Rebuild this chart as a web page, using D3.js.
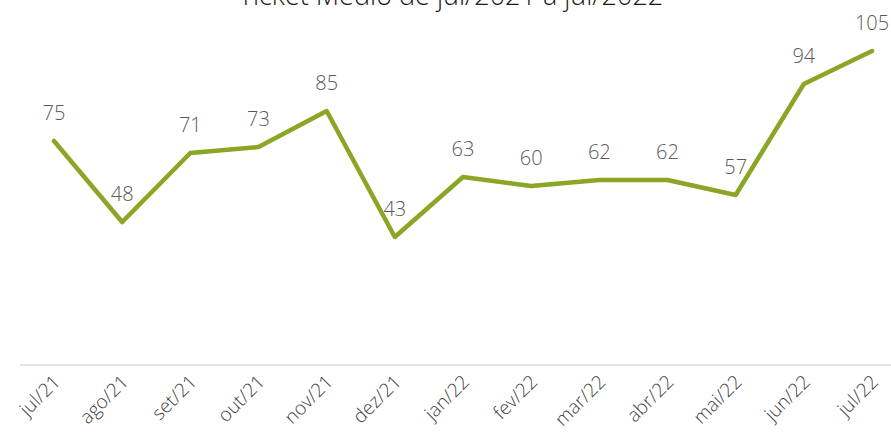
<!DOCTYPE html>
<html>
<head>
<meta charset="utf-8">
<script src="https://cdn.jsdelivr.net/npm/d3@7"></script>
<style>
  body { margin: 0; background: #fff; }
  text { font-family: 'Open Sans', sans-serif; font-weight: 300; fill: #595959; }
</style>
</head>
<body>
<div id="chart"></div>
<script>
// chart data
var months = ['jul/21', 'ago/21', 'set/21', 'out/21', 'nov/21', 'dez/21', 'jan/22',
    'fev/22', 'mar/22', 'abr/22', 'mai/22', 'jun/22', 'jul/22'];
var ticket = [75, 48, 71, 73, 85, 43, 63, 60, 62, 62, 57, 94, 105];
var title = 'Ticket Médio de jul/2021 a jul/2022';

var svgWidth = 891;
var svgHeight = 443;

var svg = d3.select('#chart')
    .append('svg')
    .attr('width', svgWidth)
    .attr('height', svgHeight);

// scales
var xScale = d3.scalePoint()
    .domain(months)
    .range([54, 872]);

var yScale = d3.scaleLinear()
    .domain([0, 105])
    .range([366, 51]);

// title (cut off at the top, as in the original)
svg.append('text')
    .attr('x', 451)
    .attr('y', 5)
    .attr('text-anchor', 'middle')
    .style('font-size', '27px')
    .style('fill', '#1a1a1a')
    .text(title);

// x axis
var bottomAxis = d3.axisBottom(xScale).tickSize(0).tickPadding(0);
var xAxis = svg.append('g')
    .attr('transform', `translate(0, 365)`)
    .call(bottomAxis);

xAxis.select('.domain')
    .attr('d', `M20,0H${svgWidth}`)
    .attr('stroke', '#d9d9d9')
    .attr('stroke-width', 1.5);

xAxis.selectAll('.tick text')
    .attr('text-anchor', 'end')
    .attr('dy', 0)
    .attr('transform', 'translate(7, 18) rotate(-45)')
    .style('font-size', '19px')
    .style('fill', '#404040');

// line
var line = d3.line()
    .x((d, i) => xScale(months[i]))
    .y(d => yScale(d));

svg.append('path')
    .datum(ticket)
    .attr('fill', 'none')
    .attr('stroke', '#8ba524')
    .attr('stroke-width', 4.5)
    .attr('stroke-linejoin', 'round')
    .attr('stroke-linecap', 'round')
    .attr('d', line);

// data labels
svg.append('g')
    .selectAll('text')
    .data(ticket)
    .enter()
    .append('text')
    .attr('x', (d, i) => xScale(months[i]))
    .attr('y', d => yScale(d) - 21)
    .attr('text-anchor', 'middle')
    .style('font-size', '20px')
    .text(d => d);
</script>
</body>
</html>
